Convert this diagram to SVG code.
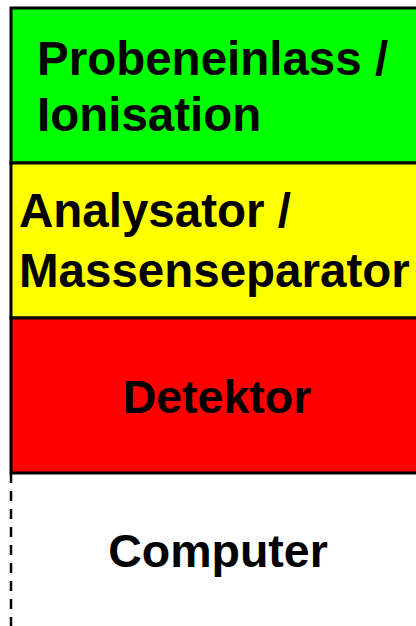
<svg xmlns="http://www.w3.org/2000/svg" width="416" height="626" viewBox="0 0 416 626">
<style>
.t{font-family:"Liberation Sans",Arial,sans-serif;font-weight:bold;font-size:47.5px;fill:#000}
.s{font-size:46.5px}
.b{stroke:#000;stroke-width:3}
</style>
<rect x="0" y="0" width="416" height="626" fill="#fff"/>
<g id="probeneinlass">
<rect x="11" y="8" width="410" height="155" fill="#00ff00" class="b"/>
<text class="t" x="37" y="75">Probeneinlass /</text>
<text class="t" x="37" y="131">Ionisation</text>
</g>
<g id="analysator">
<rect x="11" y="163" width="410" height="155" fill="#ffff00" class="b"/>
<text class="t" x="19" y="227">Analysator /</text>
<text class="t" x="19" y="287">Massenseparator</text>
</g>
<g id="detektor">
<rect x="11" y="318" width="410" height="155" fill="#ff0000" class="b"/>
<text class="t s" x="217" y="413" text-anchor="middle">Detektor</text>
</g>
<g id="computer">
<line x1="11" y1="473" x2="11" y2="630" stroke="#000" stroke-width="2.5" stroke-dasharray="10 8"/>
<text class="t s" x="218" y="567" text-anchor="middle">Computer</text>
</g>
<g id="connectors"/>
</svg>
